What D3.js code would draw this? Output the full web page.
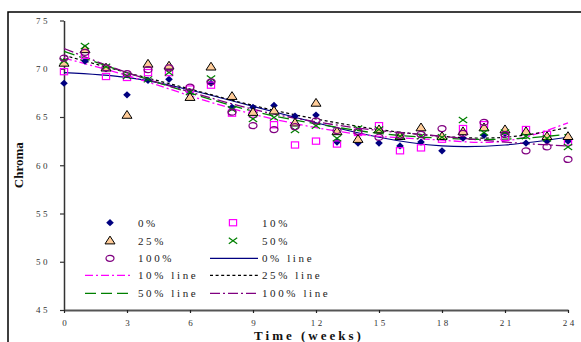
<!DOCTYPE html>
<html>
<head>
<meta charset="utf-8">
<script src="https://cdn.jsdelivr.net/npm/d3@7"></script>
<style>
  html, body { margin: 0; padding: 0; background: #fff; }
  svg { display: block; }
  .tick text { font-family: "Liberation Serif", "Times New Roman", serif; }
</style>
</head>
<body>
<svg id="chart" width="581" height="342"></svg>
<script>
// Storage weeks
const weeks = [0, 1, 2, 3, 4, 5, 6, 7, 8, 9, 10, 11, 12, 13, 14, 15, 16, 17, 18, 19, 20, 21, 22, 23, 24];

// Chroma per treatment level
const pct0   = [68.5, 70.8, 70.0, 67.3, 68.8, 68.9, 67.5, 68.5, 66.0, 66.0, 66.2, 65.1, 65.2, 62.4, 62.3, 62.3, 62.0, 62.4, 61.5, 62.8, 63.1, 63.3, 62.3, 62.5, 62.5];
const pct10  = [69.7, 71.4, 69.2, 69.1, 69.6, 69.6, 67.9, 68.3, 65.4, 65.3, 64.2, 62.1, 62.5, 62.2, 63.4, 64.1, 61.5, 61.8, 62.7, 63.8, 64.2, 62.9, 63.7, 63.2, 62.4];
const pct25  = [70.6, 72.0, 70.1, 65.2, 70.5, 70.3, 67.05, 70.2, 67.15, 65.5, 65.65, 64.4, 66.45, 63.5, 62.7, 63.7, 63.0, 63.9, 63.0, 63.5, 63.9, 63.7, 63.5, 63.0, 63.0];
const pct50  = [70.8, 72.35, 70.2, 69.25, 68.9, 69.6, 67.6, 69.0, 65.8, 64.8, 64.95, 63.65, 64.1, 62.8, 63.8, 63.7, 63.0, 63.0, 62.9, 64.7, 63.4, 63.4, 63.0, 62.8, 61.9];
const pct100 = [71.1, 71.7, 70.1, 69.5, 69.9, 70.1, 68.1, 68.65, 65.5, 64.1, 63.7, 64.0, 64.6, 63.6, 63.5, 62.9, 63.1, 63.2, 63.8, 63.3, 64.45, 63.2, 61.5, 61.9, 60.6];

// Trend lines sampled every three weeks
const trendWeeks = [0, 3, 6, 9, 12, 15, 18, 21, 24];
const trend0   = [69.6, 69.1, 67.8, 66.1, 64.4, 62.9, 62.0, 62.1, 62.9];
const trend10  = [71.1, 69.3, 67.2, 65.3, 63.9, 63.0, 62.6, 62.5, 64.4];
const trend25  = [71.4, 69.6, 67.9, 66.2, 64.8, 63.7, 63.0, 62.9, 63.9];
const trend50  = [71.8, 69.6, 67.5, 65.6, 64.3, 63.3, 62.8, 62.7, 63.2];
const trend100 = [72.1, 69.6, 67.6, 65.8, 64.5, 63.6, 63.0, 62.4, 62.0];

// Axis ticks
const yTicks = [45, 50, 55, 60, 65, 70, 75];
const xTicks = [0, 3, 6, 9, 12, 15, 18, 21, 24];

const serif = '"Liberation Serif", "Times New Roman", serif';
const svg = d3.select("#chart");

// Outer chart frame
svg.append("rect")
  .attr("x", 8).attr("y", 12)
  .attr("width", 600).attr("height", 360)
  .attr("fill", "none").attr("stroke", "#000").attr("stroke-width", 1.5);

const x = d3.scaleLinear().domain([0, 24]).range([64, 568]);
const y = d3.scaleLinear().domain([45, 75]).range([310, 20.5]);

// Y axis
const yAxis = svg.append("g")
  .attr("transform", `translate(${x(0)},0)`)
  .call(d3.axisLeft(y).tickValues(yTicks).tickSizeInner(4).tickSizeOuter(0).tickPadding(10));
yAxis.select(".domain").attr("stroke", "#333").attr("stroke-width", 1.5);
yAxis.selectAll(".tick line").attr("stroke", "#333").attr("stroke-width", 1.2);
yAxis.selectAll(".tick text")
  .attr("font-size", 9).attr("fill", "#333")
  .style("letter-spacing", "2.5px");

// X axis
const xAxis = svg.append("g")
  .attr("transform", `translate(0,${y(45)})`)
  .call(d3.axisBottom(x).tickValues(xTicks).tickSizeInner(3).tickSizeOuter(0).tickPadding(7));
xAxis.select(".domain").attr("stroke", "#555").attr("stroke-width", 2);
xAxis.selectAll(".tick line").attr("stroke", "#222").attr("stroke-width", 1.2);
xAxis.selectAll(".tick text")
  .attr("font-size", 9).attr("fill", "#333")
  .attr("dx", "1.2px")
  .style("letter-spacing", "2.5px");

// Axis titles
svg.append("text")
  .attr("transform", `translate(23,${y(60)}) rotate(-90)`)
  .attr("text-anchor", "middle")
  .attr("font-family", serif).attr("font-weight", "bold").attr("font-size", 13)
  .attr("fill", "#111")
  .text("Chroma");

svg.append("text")
  .attr("x", 309).attr("y", 340)
  .attr("text-anchor", "middle")
  .attr("font-family", serif).attr("font-weight", "bold").attr("font-size", 13)
  .attr("fill", "#111")
  .style("letter-spacing", "3px")
  .text("Time (weeks)");

// Series styles
const markers = {
  diamond: g => g.append("path").attr("d", "M0,-3.6L3.8,0L0,3.6L-3.8,0Z").attr("fill", "#000080"),
  square: g => g.append("rect").attr("x", -3.6).attr("y", -3.1).attr("width", 7.2).attr("height", 6.2)
    .attr("fill", "none").attr("stroke", "#ff00ff").attr("stroke-width", 1.2),
  triangle: g => g.append("path").attr("d", "M0,-4.6L5,3.2L-5,3.2Z")
    .attr("fill", "#ffcc99").attr("stroke", "#000").attr("stroke-width", 1),
  cross: g => g.append("path").attr("d", "M-4.2,-3L4.2,3M-4.2,3L4.2,-3")
    .attr("fill", "none").attr("stroke", "#008000").attr("stroke-width", 1.2),
  circle: g => g.append("ellipse").attr("rx", 4).attr("ry", 3)
    .attr("fill", "none").attr("stroke", "#800080").attr("stroke-width", 1.2)
};

const series = [
  { name: "0%",   values: pct0,   marker: "diamond" },
  { name: "10%",  values: pct10,  marker: "square" },
  { name: "25%",  values: pct25,  marker: "triangle" },
  { name: "50%",  values: pct50,  marker: "cross" },
  { name: "100%", values: pct100, marker: "circle" }
];

const trends = [
  { name: "0% line",   values: trend0,   color: "#000080", dash: null,        width: 1.2 },
  { name: "10% line",  values: trend10,  color: "#ff00ff", dash: "8,3,2,3",   width: 1.3 },
  { name: "25% line",  values: trend25,  color: "#000000", dash: "3,2.6",     width: 1.2 },
  { name: "50% line",  values: trend50,  color: "#008000", dash: "11,5",      width: 1.3 },
  { name: "100% line", values: trend100, color: "#800080", dash: "10,3,2,3",  width: 1.3 }
];

// Trend lines
const line = d3.line()
  .x((d, i) => x(trendWeeks[i]))
  .y(d => y(d))
  .curve(d3.curveNatural);

svg.append("g").selectAll("path")
  .data(trends)
  .join("path")
  .attr("d", d => line(d.values))
  .attr("fill", "none")
  .attr("stroke", d => d.color)
  .attr("stroke-width", d => d.width)
  .attr("stroke-dasharray", d => d.dash);

// Data markers
series.forEach(s => {
  const g = svg.append("g");
  s.values.forEach((v, i) => {
    const m = g.append("g").attr("transform", `translate(${x(weeks[i])},${y(v)})`);
    markers[s.marker](m);
  });
});

// Legend
const legendRows = [222.7, 240.7, 258.3, 275.3, 293.3];
const colMarkX = [110, 233];
const colLine = [[85, 133], [210, 258]];
const colTextX = [138, 262];

const legendItems = [
  { row: 0, col: 0, type: "marker", ref: series[0] },
  { row: 0, col: 1, type: "marker", ref: series[1] },
  { row: 1, col: 0, type: "marker", ref: series[2] },
  { row: 1, col: 1, type: "marker", ref: series[3] },
  { row: 2, col: 0, type: "marker", ref: series[4] },
  { row: 2, col: 1, type: "line", ref: trends[0] },
  { row: 3, col: 0, type: "line", ref: trends[1] },
  { row: 3, col: 1, type: "line", ref: trends[2] },
  { row: 4, col: 0, type: "line", ref: trends[3] },
  { row: 4, col: 1, type: "line", ref: trends[4] }
];

const legend = svg.append("g");
legendItems.forEach(it => {
  const cy = legendRows[it.row];
  if (it.type === "marker") {
    const m = legend.append("g").attr("transform", `translate(${colMarkX[it.col]},${cy})`);
    markers[it.ref.marker](m);
  } else {
    const [x0, x1] = colLine[it.col];
    legend.append("line")
      .attr("x1", x0).attr("x2", x1).attr("y1", cy).attr("y2", cy)
      .attr("stroke", it.ref.color)
      .attr("stroke-width", it.ref.width)
      .attr("stroke-dasharray", it.ref.dash);
  }
  legend.append("text")
    .attr("x", colTextX[it.col]).attr("y", cy + 4)
    .attr("font-family", serif).attr("font-size", 11)
    .attr("fill", "#222")
    .style("letter-spacing", "2.6px")
    .text(it.ref.name);
});
</script>
</body>
</html>
